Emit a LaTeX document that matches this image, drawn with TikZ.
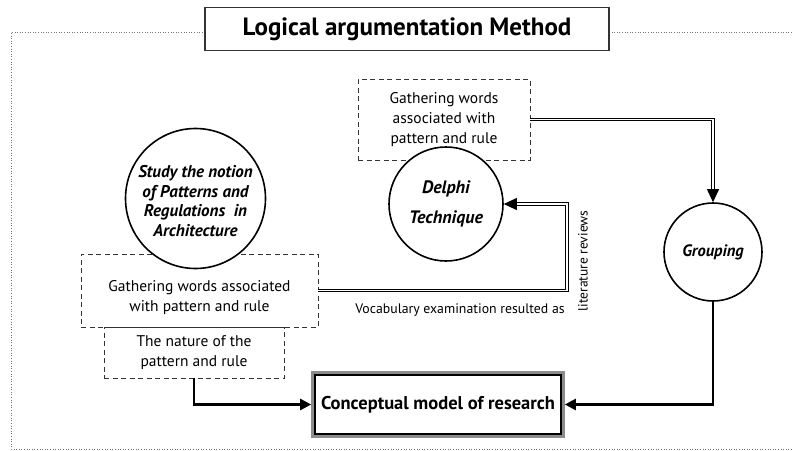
\documentclass[tikz,border=0pt]{standalone}
\usepackage{fontspec}
\setmainfont{PT Sans}
\usetikzlibrary{arrows.meta}
\tikzset{
  frame/.style={draw=black!55,line width=0.6pt,dotted},
  titlebox/.style={draw=black!80,line width=1.1pt,fill=white,minimum width=404pt,minimum height=43pt,font=\bfseries\fontsize{25}{28}\selectfont},
  dbox/.style={draw=black!80,dashed,dash pattern=on 5pt off 3.5pt,line width=0.9pt,align=center,font=\fontsize{15.5}{20}\selectfont},
  topic/.style={circle,draw,line width=1.6pt,fill=white,align=center,inner sep=0pt,font=\bfseries\itshape\fontsize{17}{19.5}\selectfont},
  flow/.style={draw,line width=0.9pt,double,double distance=1.6pt,-{Triangle[length=13pt,width=12pt]}},
  feed/.style={draw,line width=2.4pt,-{Triangle[length=11pt,width=11pt]}},
  small/.style={font=\fontsize{13.8}{15}\selectfont}
}
\begin{document}
\begin{tikzpicture}[x=1pt,y=-1pt]
  \useasboundingbox (0,0) rectangle (792,450);

  % — Dotted frame round the method
  \draw[frame] (205,32) -- (11,32) -- (11,449) -- (792,449);
  \draw[frame] (609,32) -- (792,32);
  \node[titlebox] (title) at (407,29) {Logical argumentation Method};

  % — Boxes of gathered words
  \node[dbox,minimum width=172pt,minimum height=81pt] (gtop) at (444,119.5)
    {Gathering words\\associated with\\pattern and rule};
  \node[dbox,minimum width=237pt,minimum height=73pt] (gleft) at (199.5,290.5)
    {\mbox{}\\[6pt]Gathering words associated\\with pattern and rule};
  \node[dbox,minimum width=180pt,minimum height=51pt] (nat) at (194,352.5)
    {The nature of the\\pattern and rule};

  % — Circles
  \node[topic,minimum size=140pt] (study) at (195.5,198.5)
    {\mbox{}\\[-2pt]Study the notion\\of Patterns and\\Regulations\ \ in\\Architecture};
  \node[topic,minimum size=114pt,font=\bfseries\itshape\fontsize{18}{30}\selectfont] (delphi) at (446,204)
    {Delphi\\Technique};
  \node[topic,minimum size=98pt,font=\bfseries\itshape\fontsize{16.5}{20}\selectfont] (grp) at (713,252)
    {Grouping};

  % — Result
  \node[draw=black!45,line width=3.6pt,minimum width=250pt,minimum height=63pt] (cm) at (438,404.5) {};
  \node[draw,line width=1.8pt,minimum width=246pt,minimum height=59pt,font=\bfseries\fontsize{18.5}{22}\selectfont] at (cm) {Conceptual model of research};

  % — Labels of the review loop
  \node[small,anchor=base] (voc) at (460,313) {Vocabulary examination resulted as};
  \node[small,rotate=90,font=\fontsize{13.5}{15}\selectfont] (lit) at (583,261) {literature reviews};

  % — Connectors
  \coordinate (bend) at (567,204);
  \draw[flow] (gtop.east) -| (grp.north);
  \draw[flow] (gleft.east) -| (bend) -- (delphi.east);
  \draw[feed] (nat.south) |- (cm.west);
  \draw[feed] (grp.south) |- (cm.east);
\end{tikzpicture}
\end{document}
